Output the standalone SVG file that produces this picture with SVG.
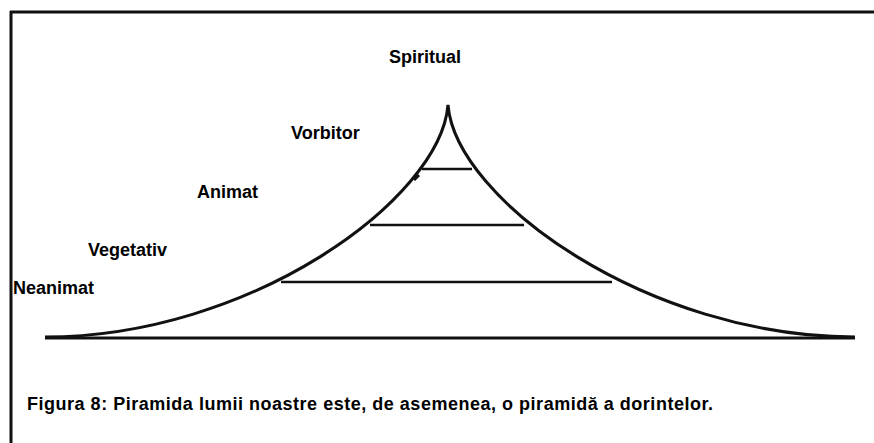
<svg xmlns="http://www.w3.org/2000/svg" width="874" height="443" viewBox="0 0 874 443">
<style>
.ln{stroke:#111;stroke-width:3;fill:none;stroke-linecap:butt}
.tier{stroke:#111;stroke-width:2.5;fill:none}
.lbl{font-family:"Liberation Sans",Arial,sans-serif;font-weight:bold;font-size:18px;fill:#000}
.cap{font-family:"Liberation Sans",Arial,sans-serif;font-weight:bold;font-size:18px;fill:#000}
</style>
<rect width="874" height="443" fill="#fff"/>
<g id="frame">
<path class="ln" d="M10 12 H874 M11 11 V443"/>
</g>
<g id="pyramid">
<path class="ln" d="M45 337 C250 337 440 200 448 105 C456 200 648 337 855 337"/>
<path class="ln" d="M45 338 H855"/>
<path class="ln" d="M414 180 L419 175"/>
</g>
<g id="tiers">
<path class="tier" d="M422 169 H472"/>
<path class="tier" d="M370 225 H524"/>
<path class="tier" d="M281 282 H612"/>
</g>
<g id="labels">
<text class="lbl" x="389" y="63">Spiritual</text>
<text class="lbl" x="291" y="139">Vorbitor</text>
<text class="lbl" x="197" y="198">Animat</text>
<text class="lbl" x="88" y="256">Vegetativ</text>
<text class="lbl" x="13" y="294">Neanimat</text>
</g>
<g id="caption">
<text class="cap" x="27" y="410" textLength="686" lengthAdjust="spacing">Figura 8: Piramida lumii noastre este, de asemenea, o piramidă a dorintelor.</text>
</g>
</svg>
